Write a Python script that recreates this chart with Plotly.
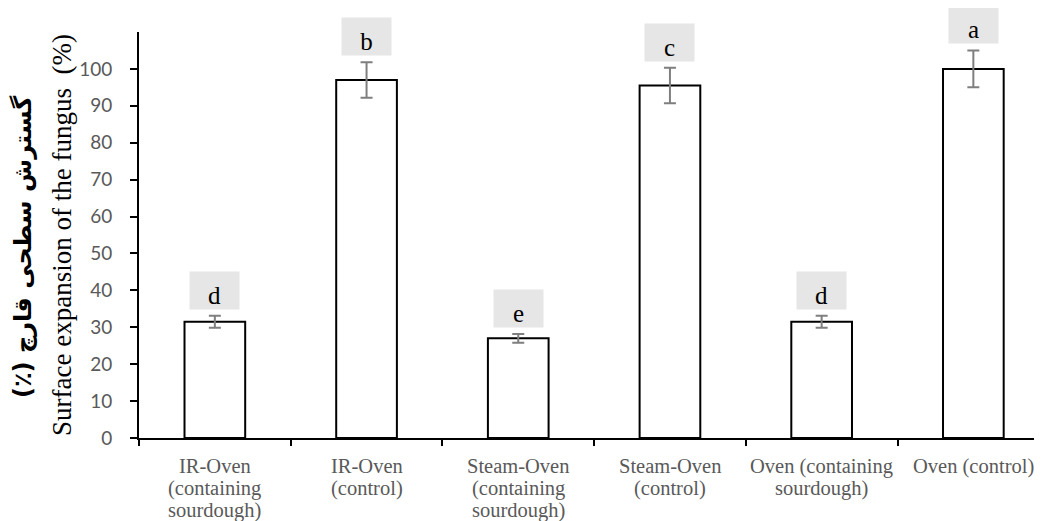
import plotly.graph_objects as go

categories = [
    "IR-Oven (containing sourdough)",
    "IR-Oven (control)",
    "Steam-Oven (containing sourdough)",
    "Steam-Oven (control)",
    "Oven (containing sourdough)",
    "Oven (control)",
]
tick_lines = [
    ["IR-Oven", "(containing", "sourdough)"],
    ["IR-Oven", "(control)"],
    ["Steam-Oven", "(containing", "sourdough)"],
    ["Steam-Oven", "(control)"],
    ["Oven (containing", "sourdough)"],
    ["Oven (control)"],
]
values = [31.5, 97.0, 27.0, 95.5, 31.5, 100.0]
errors = [1.6, 4.8, 1.2, 4.8, 1.6, 5.0]
letters = ["d", "b", "e", "c", "d", "a"]
y_ticks = [0, 10, 20, 30, 40, 50, 60, 70, 80, 90, 100]

SERIF = "Liberation Serif, Times New Roman, serif"
OFF = 8  # page body margin offset
W, H = 1042, 521
ml, mt = 139 - OFF, 32 - OFF
mb = H - (438 - OFF)
mr = OFF
pw, ph = W - ml - mr, H - mt - mb

fig = go.Figure()
fig.add_trace(go.Bar(
    x=categories, y=values, width=0.4,
    marker=dict(color="white", line=dict(color="black", width=2)),
    error_y=dict(type="data", array=errors, visible=True, color="#7f7f7f", thickness=2, width=6),
))

# significance letters in grey boxes
for c, v, e, l in zip(categories, values, errors, letters):
    fig.add_annotation(
        x=c, y=v + e, xref="x", yref="y", text=l, showarrow=False,
        yanchor="bottom", yshift=6, width=49, height=37, bgcolor="#e6e6e6",
        valign="bottom", borderpad=0,
        font=dict(family=SERIF, size=25, color="black"),
    )

# category labels, line by line (tight line spacing)
for c, lines in zip(categories, tick_lines):
    for i, t in enumerate(lines):
        fig.add_annotation(
            x=c, y=0, xref="x", yref="paper", text=t, showarrow=False,
            xanchor="center", yanchor="middle", yshift=-(28 + i * 22.2),
            font=dict(family=SERIF, size=20.5, color="#595959"),
        )

def px_to_paper(xv, yv):
    return (xv - OFF - ml) / pw, (H - mb - (yv - OFF)) / ph

ex, ey = px_to_paper(62, 235)
fig.add_annotation(
    x=ex, y=ey, xref="paper", yref="paper", text="Surface expansion of the fungus  (%)",
    textangle=-90, showarrow=False, xanchor="center", yanchor="middle",
    font=dict(family=SERIF, size=27, color="black"),
)
fx, fy = px_to_paper(23, 247)
fig.add_annotation(
    x=fx, y=fy, xref="paper", yref="paper", text="<b>\u202bگسترش سطحی قارچ (٪)\u202c</b>",
    textangle=-90, showarrow=False, xanchor="center", yanchor="middle",
    font=dict(family="DejaVu Sans, Noto Sans, sans-serif", size=24, color="black"),
)

fig.update_layout(
    width=W, height=H,
    margin=dict(l=ml, r=mr, t=mt, b=mb, autoexpand=False),
    plot_bgcolor="white", paper_bgcolor="white",
    showlegend=False,
    xaxis=dict(
        range=[-0.5, -0.5 + pw / 151.7],
        showline=True, linecolor="black", linewidth=2,
        ticks="outside", tickson="boundaries", ticklen=6, tickcolor="black", tickwidth=2,
        showticklabels=False,
        showgrid=False, zeroline=False,
    ),
    yaxis=dict(
        range=[0, 110], tickvals=y_ticks,
        showline=True, linecolor="black", linewidth=2,
        ticks="outside", ticklen=7, tickcolor="black", tickwidth=2,
        ticklabelstandoff=14,
        tickfont=dict(family="Lato, Open Sans, sans-serif", size=19, color="#595959"),
        showgrid=False, zeroline=False,
    ),
)

fig.write_html("out.html")
